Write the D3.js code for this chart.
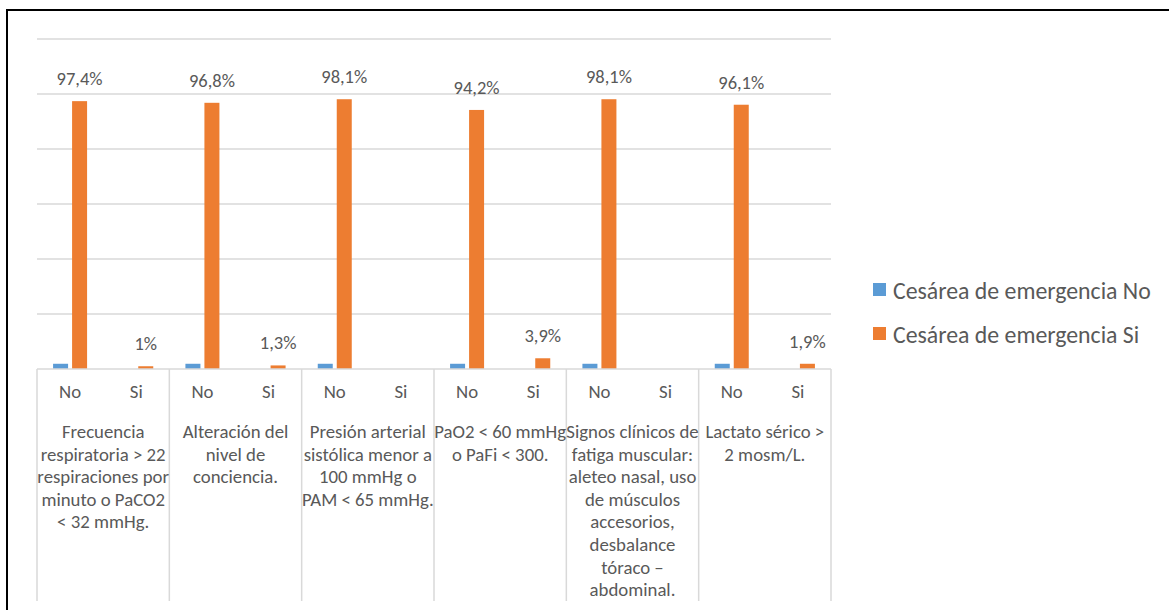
<!DOCTYPE html>
<html>
<head>
<meta charset="utf-8">
<script src="https://cdn.jsdelivr.net/npm/d3@7"></script>
<style>
  html, body { margin: 0; padding: 0; background: #fff; }
  svg { display: block; }
  text { font-family: Carlito, Calibri, Lato, sans-serif; fill: #595959; }
</style>
</head>
<body>
<svg id="chart" width="1169" height="610"></svg>
<script>
// Criteria (outer categories) with their wrapped label lines
const criteria = [
  "Frecuencia respiratoria",
  "Alteración del nivel de conciencia",
  "Presión arterial",
  "PaO2 / PaFi",
  "Signos clínicos de fatiga muscular",
  "Lactato sérico"
];
const criteriaLines = [
  ["Frecuencia", "respiratoria > 22", "respiraciones por", "minuto o PaCO2", "< 32 mmHg."],
  ["Alteración del", "nivel de", "conciencia."],
  ["Presión arterial", "sistólica menor a", "100 mmHg o", "PAM < 65 mmHg."],
  ["PaO2 < 60 mmHg", "o PaFi < 300."],
  ["Signos clínicos de", "fatiga muscular:", "aleteo nasal, uso", "de músculos", "accesorios,", "desbalance", "tóraco –", "abdominal."],
  ["Lactato sérico >", "2 mosm/L."]
];
// Inner categories (criterion present)
const answers = ["No", "Si"];

// Series
const seriesNames = ["Cesárea de emergencia No", "Cesárea de emergencia Si"];
const seriesColors = ["#5b9bd5", "#ed7d31"];

// Values in %, one row per criterion, order [No, Si]; null = no value
const cesareaNo = [
  [1.9, null], [1.9, null], [1.9, null], [1.9, null], [1.9, null], [1.9, null]
];
const cesareaSi = [
  [97.4, 1.0], [96.8, 1.3], [98.1, null], [94.2, 3.9], [98.1, null], [96.1, 1.9]
];
const labelTexts = [
  ["97,4%", "1%"], ["96,8%", "1,3%"], ["98,1%", null], ["94,2%", "3,9%"], ["98,1%", null], ["96,1%", "1,9%"]
];
const yTicks = [0, 20, 40, 60, 80, 100, 120];

const svg = d3.select("#chart");

const plot = { left: 37, right: 831, top: 39, bottom: 369 };

const x0 = d3.scaleBand().domain(criteria).range([plot.left, plot.right]).padding(0);
const x1 = d3.scaleBand().domain(answers).range([0, x0.bandwidth()]).padding(0);
const y = d3.scaleLinear().domain([0, 120]).range([plot.bottom, plot.top]);

// Gridlines
svg.append("g")
  .selectAll("line")
  .data(yTicks.slice(1))
  .join("line")
  .attr("x1", plot.left).attr("x2", plot.right)
  .attr("y1", d => y(d)).attr("y2", d => y(d))
  .attr("stroke", "#d9d9d9").attr("stroke-width", 1.5);

// Bars
const cells = [];
criteria.forEach((c, i) => {
  answers.forEach((a, j) => {
    const cx = x0(c) + x1(a) + x1.bandwidth() / 2;
    const x2 = d3.scaleBand().domain(seriesNames).range([cx - 17, cx + 17]).paddingInner(0.2105);
    [cesareaNo[i][j], cesareaSi[i][j]].forEach((v, k) => {
      cells.push({ x: x2(seriesNames[k]), w: x2.bandwidth(), v, k, label: k === 1 ? labelTexts[i][j] : null });
    });
  });
});

svg.append("g")
  .selectAll("rect")
  .data(cells.filter(d => d.v != null))
  .join("rect")
  .attr("x", d => d.x)
  .attr("width", d => d.w)
  .attr("y", d => y(d.v))
  .attr("height", d => y(0) - y(d.v))
  .attr("fill", d => seriesColors[d.k]);

// Data labels on the "Si" series
svg.append("g")
  .selectAll("text")
  .data(cells.filter(d => d.v != null && d.label))
  .join("text")
  .attr("x", d => d.x + d.w / 2)
  .attr("y", d => y(d.v) - 16)
  .attr("text-anchor", "middle")
  .style("font-size", "18.5px")
  .text(d => d.label);

// Category axis: baseline and group separators
const axis = svg.append("g");
axis.append("line")
  .attr("x1", plot.left).attr("x2", plot.right)
  .attr("y1", plot.bottom).attr("y2", plot.bottom)
  .attr("stroke", "#d9d9d9").attr("stroke-width", 1.5);
const bounds = criteria.map(c => x0(c)).concat([x0(criteria[criteria.length - 1]) + x0.bandwidth()]);
axis.selectAll("line.sep")
  .data(bounds)
  .join("line")
  .attr("class", "sep")
  .attr("x1", d => d).attr("x2", d => d)
  .attr("y1", plot.bottom).attr("y2", 601)
  .attr("stroke", "#d9d9d9").attr("stroke-width", 1.5);

// Inner labels (No / Si)
criteria.forEach(c => {
  axis.append("g").selectAll("text")
    .data(answers)
    .join("text")
    .attr("x", a => x0(c) + x1(a) + x1.bandwidth() / 2)
    .attr("y", 397.5)
    .attr("text-anchor", "middle")
    .style("font-size", "18.8px")
    .text(a => a);
});

// Outer labels (criteria)
criteria.forEach((c, i) => {
  const t = axis.append("text")
    .attr("x", x0(c) + x0.bandwidth() / 2)
    .attr("y", 438)
    .attr("text-anchor", "middle")
    .style("font-size", "18.8px");
  t.selectAll("tspan")
    .data(criteriaLines[i])
    .join("tspan")
    .attr("x", x0(c) + x0.bandwidth() / 2)
    .attr("dy", (d, k) => k === 0 ? 0 : 22.6)
    .text(d => d);
});

// Legend
const legend = svg.append("g");
seriesNames.forEach((s, k) => {
  const ly = 290 + k * 44;
  legend.append("rect")
    .attr("x", 873).attr("y", ly - 7)
    .attr("width", 13).attr("height", 13)
    .attr("fill", seriesColors[k]);
  legend.append("text")
    .attr("x", 893).attr("y", ly + 8.5)
    .style("font-size", "23.8px")
    .text(s);
});

// Chart frame
svg.append("rect")
  .attr("x", 7).attr("y", 10)
  .attr("width", 1300).attr("height", 800)
  .attr("fill", "none")
  .attr("stroke", "#000").attr("stroke-width", 2);
</script>
</body>
</html>
